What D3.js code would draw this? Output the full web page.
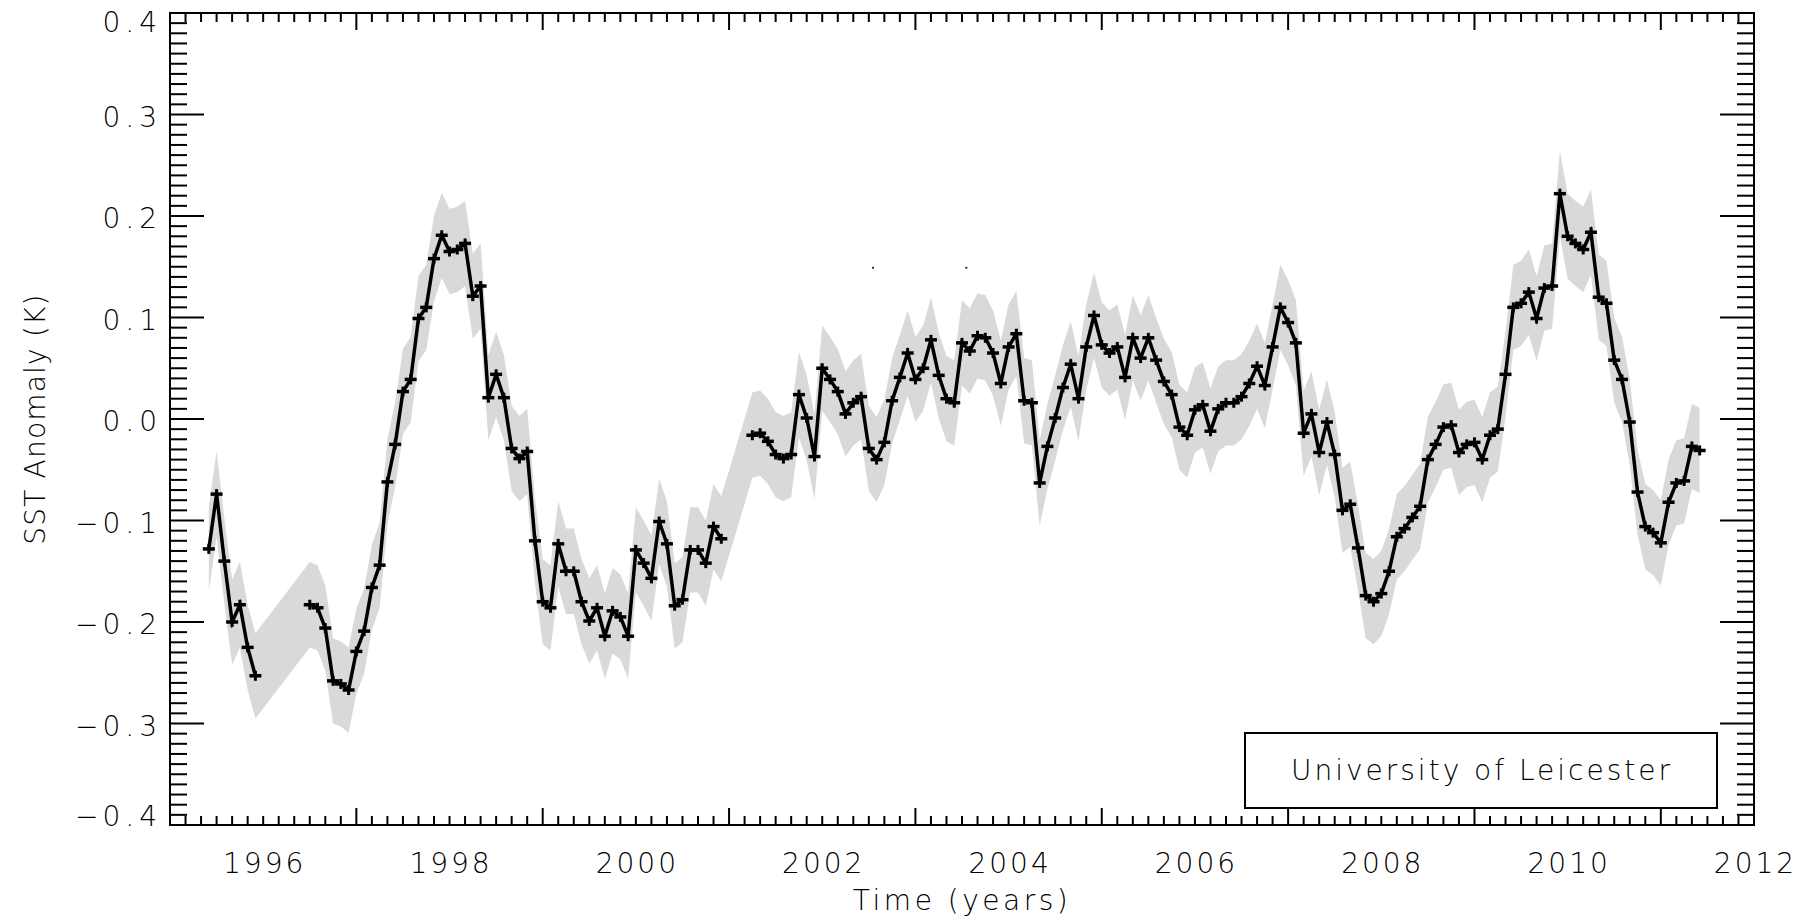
<!DOCTYPE html>
<html>
<head>
<meta charset="utf-8">
<script src="https://cdn.jsdelivr.net/npm/d3@7"></script>
<style>
  body { margin: 0; background: #fff; }
  text { font-family: "DejaVu Sans", sans-serif; font-weight: 200; fill: #000; }
</style>
</head>
<body>
<div id="chart-area"></div>
<script>

// SST anomaly (K), monthly values in three unbroken runs
var runStart = [1995 + 5/12, 1996 + 6/12, 2001 + 3/12];   // Jun 1995, Jul 1996, Apr 2001

var runA = [-0.128, -0.074, -0.140, -0.200, -0.183, -0.225, -0.253];

var runB = [-0.183, -0.186, -0.206, -0.258, -0.261, -0.267, -0.229, -0.209, -0.166, -0.144, -0.062, -0.025, 0.027,
  0.039, 0.099, 0.110, 0.158, 0.181, 0.165, 0.167, 0.173, 0.121, 0.131, 0.021, 0.044, 0.021, -0.029, -0.039, -0.032,
  -0.120, -0.180, -0.186, -0.123, -0.150, -0.150, -0.180, -0.199, -0.186, -0.214, -0.189, -0.195, -0.214, -0.129,
  -0.142, -0.157, -0.101, -0.123, -0.184, -0.178, -0.129, -0.129, -0.142, -0.106, -0.118];

var runC = [-0.016, -0.014, -0.022, -0.035, -0.039, -0.035, 0.024, 0.001, -0.037, 0.050, 0.039, 0.027, 0.005, 0.016, 0.022, -0.029,
  -0.040, -0.023, 0.018, 0.041, 0.065, 0.039, 0.050, 0.078, 0.043, 0.020, 0.016, 0.075, 0.067, 0.082, 0.080, 0.065,
  0.035, 0.071, 0.084, 0.018, 0.016, -0.063, -0.027, 0.001, 0.031, 0.054, 0.020, 0.071,
  0.102, 0.073, 0.065, 0.071, 0.041, 0.080, 0.060, 0.080, 0.058, 0.037, 0.024, -0.008, -0.016, 0.009, 0.014, -0.012,
  0.010, 0.016, 0.016, 0.022, 0.035, 0.052, 0.033, 0.071, 0.110, 0.095, 0.075, -0.014,
  0.005, -0.033, -0.003, -0.035, -0.090, -0.084, -0.127, -0.174, -0.180, -0.172, -0.150, -0.116, -0.108, -0.097,
  -0.086, -0.040, -0.025, -0.008, -0.006, -0.033, -0.025, -0.023, -0.040, -0.016, -0.010, 0.044, 0.110, 0.114, 0.125,
  0.099, 0.129, 0.131, 0.222, 0.180, 0.173, 0.167, 0.184, 0.120, 0.114, 0.058, 0.039, -0.003, -0.072, -0.106,
  -0.112, -0.122, -0.082, -0.063, -0.061, -0.027, -0.031];

// half width of the grey uncertainty band (K)
var bandHalf = 0.042;

// two stray pixels above the curve
var strayYears = [2002.545, 2003.546];
var strayVals = [0.149, 0.149];

var yTickValues = [-0.4, -0.3, -0.2, -0.1, 0.0, 0.1, 0.2, 0.3, 0.4];
var xTickValues = [1996, 1998, 2000, 2002, 2004, 2006, 2008, 2010, 2012];

var xTitle = "Time (years)";
var yTitle = "SST Anomaly (K)";
var legendText = "University of Leicester";

var width = 1810, height = 920;
var plot = { left: 170, right: 1754, top: 13, bottom: 825 };

var svg = d3.select("#chart-area").append("svg")
  .attr("width", width)
  .attr("height", height);

var x = d3.scaleLinear().domain([1995, 2012]).range([plot.left, plot.right]);
var y = d3.scaleLinear().domain([-0.4, 0.4]).range([plot.bottom, plot.top]);

// build point lists
var runs = [runA, runB, runC].map(function(vals, r) {
  return vals.map(function(v, i) {
    return { t: runStart[r] + i / 12, v: v };
  });
});
var allPoints = d3.merge(runs);

// grey band, drawn straight across the gaps
var area = d3.area()
  .x(function(d) { return x(d.t); })
  .y0(function(d) { return y(d.v - bandHalf); })
  .y1(function(d) { return y(d.v + bandHalf); });

svg.append("path")
  .datum(allPoints)
  .attr("fill", "#d9d9d9")
  .attr("d", area);

// black line per run
var line = d3.line()
  .x(function(d) { return x(d.t); })
  .y(function(d) { return y(d.v); });

svg.selectAll(".run")
  .data(runs)
  .enter().append("path")
    .attr("class", "run")
    .attr("fill", "none")
    .attr("stroke", "#000")
    .attr("stroke-width", 3.5)
    .attr("stroke-linejoin", "miter")
    .attr("d", line);

// plus markers
var marks = svg.selectAll(".mark")
  .data(allPoints)
  .enter().append("g")
    .attr("class", "mark")
    .attr("transform", function(d) { return "translate(" + x(d.t) + "," + y(d.v) + ")"; });
marks.append("line").attr("x1", -6).attr("x2", 6).attr("y1", 0).attr("y2", 0)
  .attr("stroke", "#000").attr("stroke-width", 3.5);
marks.append("line").attr("x1", 0).attr("x2", 0).attr("y1", -5).attr("y2", 5)
  .attr("stroke", "#000").attr("stroke-width", 3);

svg.selectAll(".stray")
  .data(strayYears)
  .enter().append("rect")
    .attr("x", function(d) { return x(d) - 1; })
    .attr("y", function(d, i) { return y(strayVals[i]) - 1; })
    .attr("width", 2)
    .attr("height", 2)
    .attr("fill", "#333");

// frame
svg.append("rect")
  .attr("x", plot.left)
  .attr("y", plot.top)
  .attr("width", plot.right - plot.left)
  .attr("height", plot.bottom - plot.top)
  .attr("fill", "none")
  .attr("stroke", "#000")
  .attr("stroke-width", 2);

// ticks (inward, mirrored on all four sides)
var yMinor = d3.range(-40, 41).map(function(i) { return i / 100; });
var xMinor = d3.range(0, 103).map(function(i) { return 1995 + i / 6; });
var ticks = svg.append("g").attr("stroke", "#000").attr("stroke-width", 2);

function yTickLen(v) { return Math.abs(Math.round(v * 100)) % 10 === 0 ? 34 : 17; }
function xTickLen(t) { return Math.abs(Math.round(t * 6)) % 12 === 6 ? 17 : 9; }

yMinor.forEach(function(v) {
  var len = yTickLen(v);
  ticks.append("line").attr("x1", plot.left).attr("x2", plot.left + len)
    .attr("y1", y(v)).attr("y2", y(v));
  ticks.append("line").attr("x1", plot.right).attr("x2", plot.right - len)
    .attr("y1", y(v)).attr("y2", y(v));
});
xMinor.forEach(function(t) {
  var len = xTickLen(t);
  ticks.append("line").attr("x1", x(t)).attr("x2", x(t))
    .attr("y1", plot.bottom).attr("y2", plot.bottom - len);
  ticks.append("line").attr("x1", x(t)).attr("x2", x(t))
    .attr("y1", plot.top).attr("y2", plot.top + len);
});

// tick labels
var fmt = d3.format(".1f");
var ylab = svg.selectAll(".ylab")
  .data(yTickValues)
  .enter().append("text")
    .attr("class", "ylab")
    .attr("x", plot.left - 8)
    .attr("y", function(d, i) {
      var shift = i === 0 ? -9 : (i === yTickValues.length - 1 ? 9 : 2);
      return y(d) + shift + 10;
    })
    .attr("text-anchor", "end")
    .attr("font-size", "28px")
    .attr("letter-spacing", "5px");
ylab.filter(function(d) { return d < 0; })
  .append("tspan")
    .attr("letter-spacing", "4px")
    .text("\u2212");
ylab.append("tspan")
  .attr("letter-spacing", "5px")
  .text(function(d) { return fmt(Math.abs(d)); });

svg.selectAll(".xlab")
  .data(xTickValues)
  .enter().append("text")
    .attr("class", "xlab")
    .attr("x", function(d) { return x(d) + 1.5; })
    .attr("y", 873)
    .attr("text-anchor", "middle")
    .attr("font-size", "28px")
    .attr("letter-spacing", "3px")
    .text(function(d) { return d; });

// axis titles
svg.append("text")
  .attr("x", (plot.left + plot.right) / 2)
  .attr("y", 910)
  .attr("text-anchor", "middle")
  .attr("font-size", "28px")
  .attr("letter-spacing", "3.5px")
  .text(xTitle);

svg.append("text")
  .attr("transform", "translate(45," + y(0) + ") rotate(-90)")
  .attr("text-anchor", "middle")
  .attr("font-size", "28px")
  .attr("letter-spacing", "1.2px")
  .text(yTitle);

// legend box
svg.append("rect")
  .attr("x", 1245)
  .attr("y", 733)
  .attr("width", 472)
  .attr("height", 75)
  .attr("fill", "#fff")
  .attr("stroke", "#000")
  .attr("stroke-width", 2);

svg.append("text")
  .attr("x", 1482)
  .attr("y", 780)
  .attr("text-anchor", "middle")
  .attr("font-size", "28px")
  .attr("letter-spacing", "3px")
  .text(legendText);

</script>
</body>
</html>
